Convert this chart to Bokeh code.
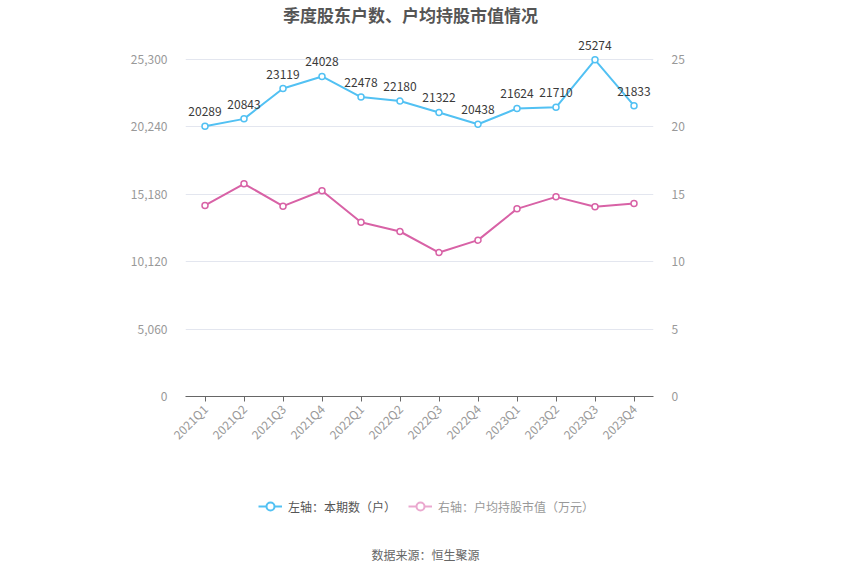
from bokeh.plotting import figure
from bokeh.models import (ColumnDataSource, FactorRange, Range1d, LinearAxis, FixedTicker,
                          Label, LabelSet, Legend, LegendItem, NumeralTickFormatter)
from bokeh.layouts import column
from bokeh.core.properties import value
from bokeh.embed import file_html
from bokeh.resources import INLINE

quarters = ["2021Q1", "2021Q2", "2021Q3", "2021Q4", "2022Q1", "2022Q2", "2022Q3", "2022Q4",
            "2023Q1", "2023Q2", "2023Q3", "2023Q4"]
holders = [20289, 20843, 23119, 24028, 22478, 22180, 21322, 20438, 21624, 21710, 25274, 21833]
avg_value = [14.17, 15.78, 14.12, 15.26, 12.93, 12.24, 10.68, 11.60, 13.92, 14.81, 14.07, 14.32]
left_ticks = [0, 5060, 10120, 15180, 20240, 25300]
right_ticks = [0, 5, 10, 15, 20, 25]

title_text = "季度股东户数、户均持股市值情况"
legend_left = "左轴：本期数（户）"
legend_right = "右轴：户均持股市值（万元）"
source_text = "数据来源：恒生聚源"

FONT = "Noto Sans CJK SC"
BLUE = "#52c1f3"
PINK = "#d862a6"

# layout geometry (pixels)
FRAME_BOTTOM = 396      # y pixel of the x axis
TOP_TICK_PX = 59        # y pixel of the 25300 / 25 gridline
FRAME_H = FRAME_BOTTOM  # frame reaches the top of the canvas (title drawn inside)
LEFT_MAX = 25300 * FRAME_H / (FRAME_BOTTOM - TOP_TICK_PX)
RIGHT_MAX = 25 * FRAME_H / (FRAME_BOTTOM - TOP_TICK_PX)

src = ColumnDataSource(dict(q=quarters, h=holders, v=avg_value,
                            lab=[str(x) for x in holders]))

p = figure(width=850, height=460, x_range=FactorRange(*quarters),
           y_range=Range1d(0, LEFT_MAX), output_backend="svg", toolbar_location=None,
           min_border_left=185, min_border_right=197, min_border_top=0, min_border_bottom=64)
p.outline_line_color = None
p.extra_y_ranges = {"right": Range1d(0, RIGHT_MAX)}

# axes
p.yaxis.ticker = FixedTicker(ticks=left_ticks)
p.yaxis.formatter = NumeralTickFormatter(format="0,0")
p.yaxis.axis_line_color = None
p.yaxis.major_tick_line_color = None
p.yaxis.minor_tick_line_color = None
p.yaxis.major_label_text_color = "#999999"
p.yaxis.major_label_text_font = FONT
p.yaxis.major_label_text_font_size = "12px"
p.yaxis.major_label_standoff = 12

ra = LinearAxis(y_range_name="right", ticker=FixedTicker(ticks=right_ticks))
ra.axis_line_color = None
ra.major_tick_line_color = None
ra.minor_tick_line_color = None
ra.major_label_text_color = "#999999"
ra.major_label_text_font = FONT
ra.major_label_text_font_size = "12px"
ra.major_label_standoff = 12
p.add_layout(ra, "right")

p.xaxis.axis_line_color = "#666666"
p.xaxis.major_tick_line_color = "#666666"
p.xaxis.major_tick_in = 0
p.xaxis.major_tick_out = 5
p.xaxis.major_label_orientation = 0.785
p.xaxis.major_label_text_color = "#999999"
p.xaxis.major_label_text_font = FONT
p.xaxis.major_label_text_font_size = "12px"

p.xgrid.grid_line_color = None
p.ygrid.ticker = FixedTicker(ticks=left_ticks)
p.ygrid.grid_line_color = "#e3e6ef"

# series
bl = p.line("q", "h", source=src, line_color=BLUE, line_width=2)
bc = p.scatter("q", "h", source=src, size=6, fill_color="white", line_color=BLUE, line_width=1.5)
pl = p.line("q", "v", source=src, line_color=PINK, line_width=2, y_range_name="right")
pc = p.scatter("q", "v", source=src, size=6, fill_color="white", line_color=PINK, line_width=1.5,
               y_range_name="right")

labels = LabelSet(x="q", y="h", text="lab", source=src, text_align="center",
                  text_baseline="bottom", y_offset=10, text_font=value(FONT),
                  text_font_size="12px", text_color="#3a3a3a")
p.add_layout(labels)

# title inside the (tall) frame, above the top gridline
px_per_unit = FRAME_H / LEFT_MAX
p.add_layout(Label(x=(410 - 185) / 39.0, y=(FRAME_BOTTOM - 14) / px_per_unit, text=title_text,
                   text_align="center", text_baseline="middle", text_font=FONT,
                   text_font_size="17px", text_font_style="bold", text_color="#555555"))

# second strip: legend and source (frame aligned with the main one: x 185..653)
H2 = 115
p2 = figure(width=850, height=H2, x_range=Range1d(185, 653), y_range=Range1d(0, H2),
            output_backend="svg", toolbar_location=None,
            min_border_left=185, min_border_right=197, min_border_top=0, min_border_bottom=0)
p2.axis.visible = False
p2.grid.visible = False
p2.outline_line_color = None
# legend-only renderers: they use the real data, which lies far outside this strip's ranges
d1 = p2.line("h", "h", source=src, line_color=BLUE, line_width=2)
d2 = p2.scatter("h", "h", source=src, size=11, fill_color="white", line_color=BLUE, line_width=2)
d3 = p2.line("h", "h", source=src, line_color="#eaa8cf", line_width=2)
d4 = p2.scatter("h", "h", source=src, size=11, fill_color="white", line_color="#eaa8cf",
                line_width=2)

leg1 = Legend(items=[LegendItem(label=legend_left, renderers=[d1, d2])], location=(258 - 185, 59),
              label_text_font=FONT, label_text_font_size="12px",
              label_text_color="#555555", border_line_color=None, background_fill_alpha=0,
              glyph_width=24, glyph_height=20, label_standoff=6, padding=0, margin=0)
leg2 = Legend(items=[LegendItem(label=legend_right, renderers=[d3, d4])], location=(408 - 185, 59),
              label_text_font=FONT, label_text_font_size="12px",
              label_text_color="#999999", border_line_color=None, background_fill_alpha=0,
              glyph_width=24, glyph_height=20, label_standoff=6, padding=0, margin=0)
p2.add_layout(leg1, "center")
p2.add_layout(leg2, "center")

p2.add_layout(Label(x=425, y=H2 - 94, text=source_text, text_align="center",
                    text_baseline="middle", text_font=FONT, text_font_size="12px",
                    text_color="#666666"))

open("out.html", "w").write(file_html(column(p, p2, spacing=0), INLINE))
